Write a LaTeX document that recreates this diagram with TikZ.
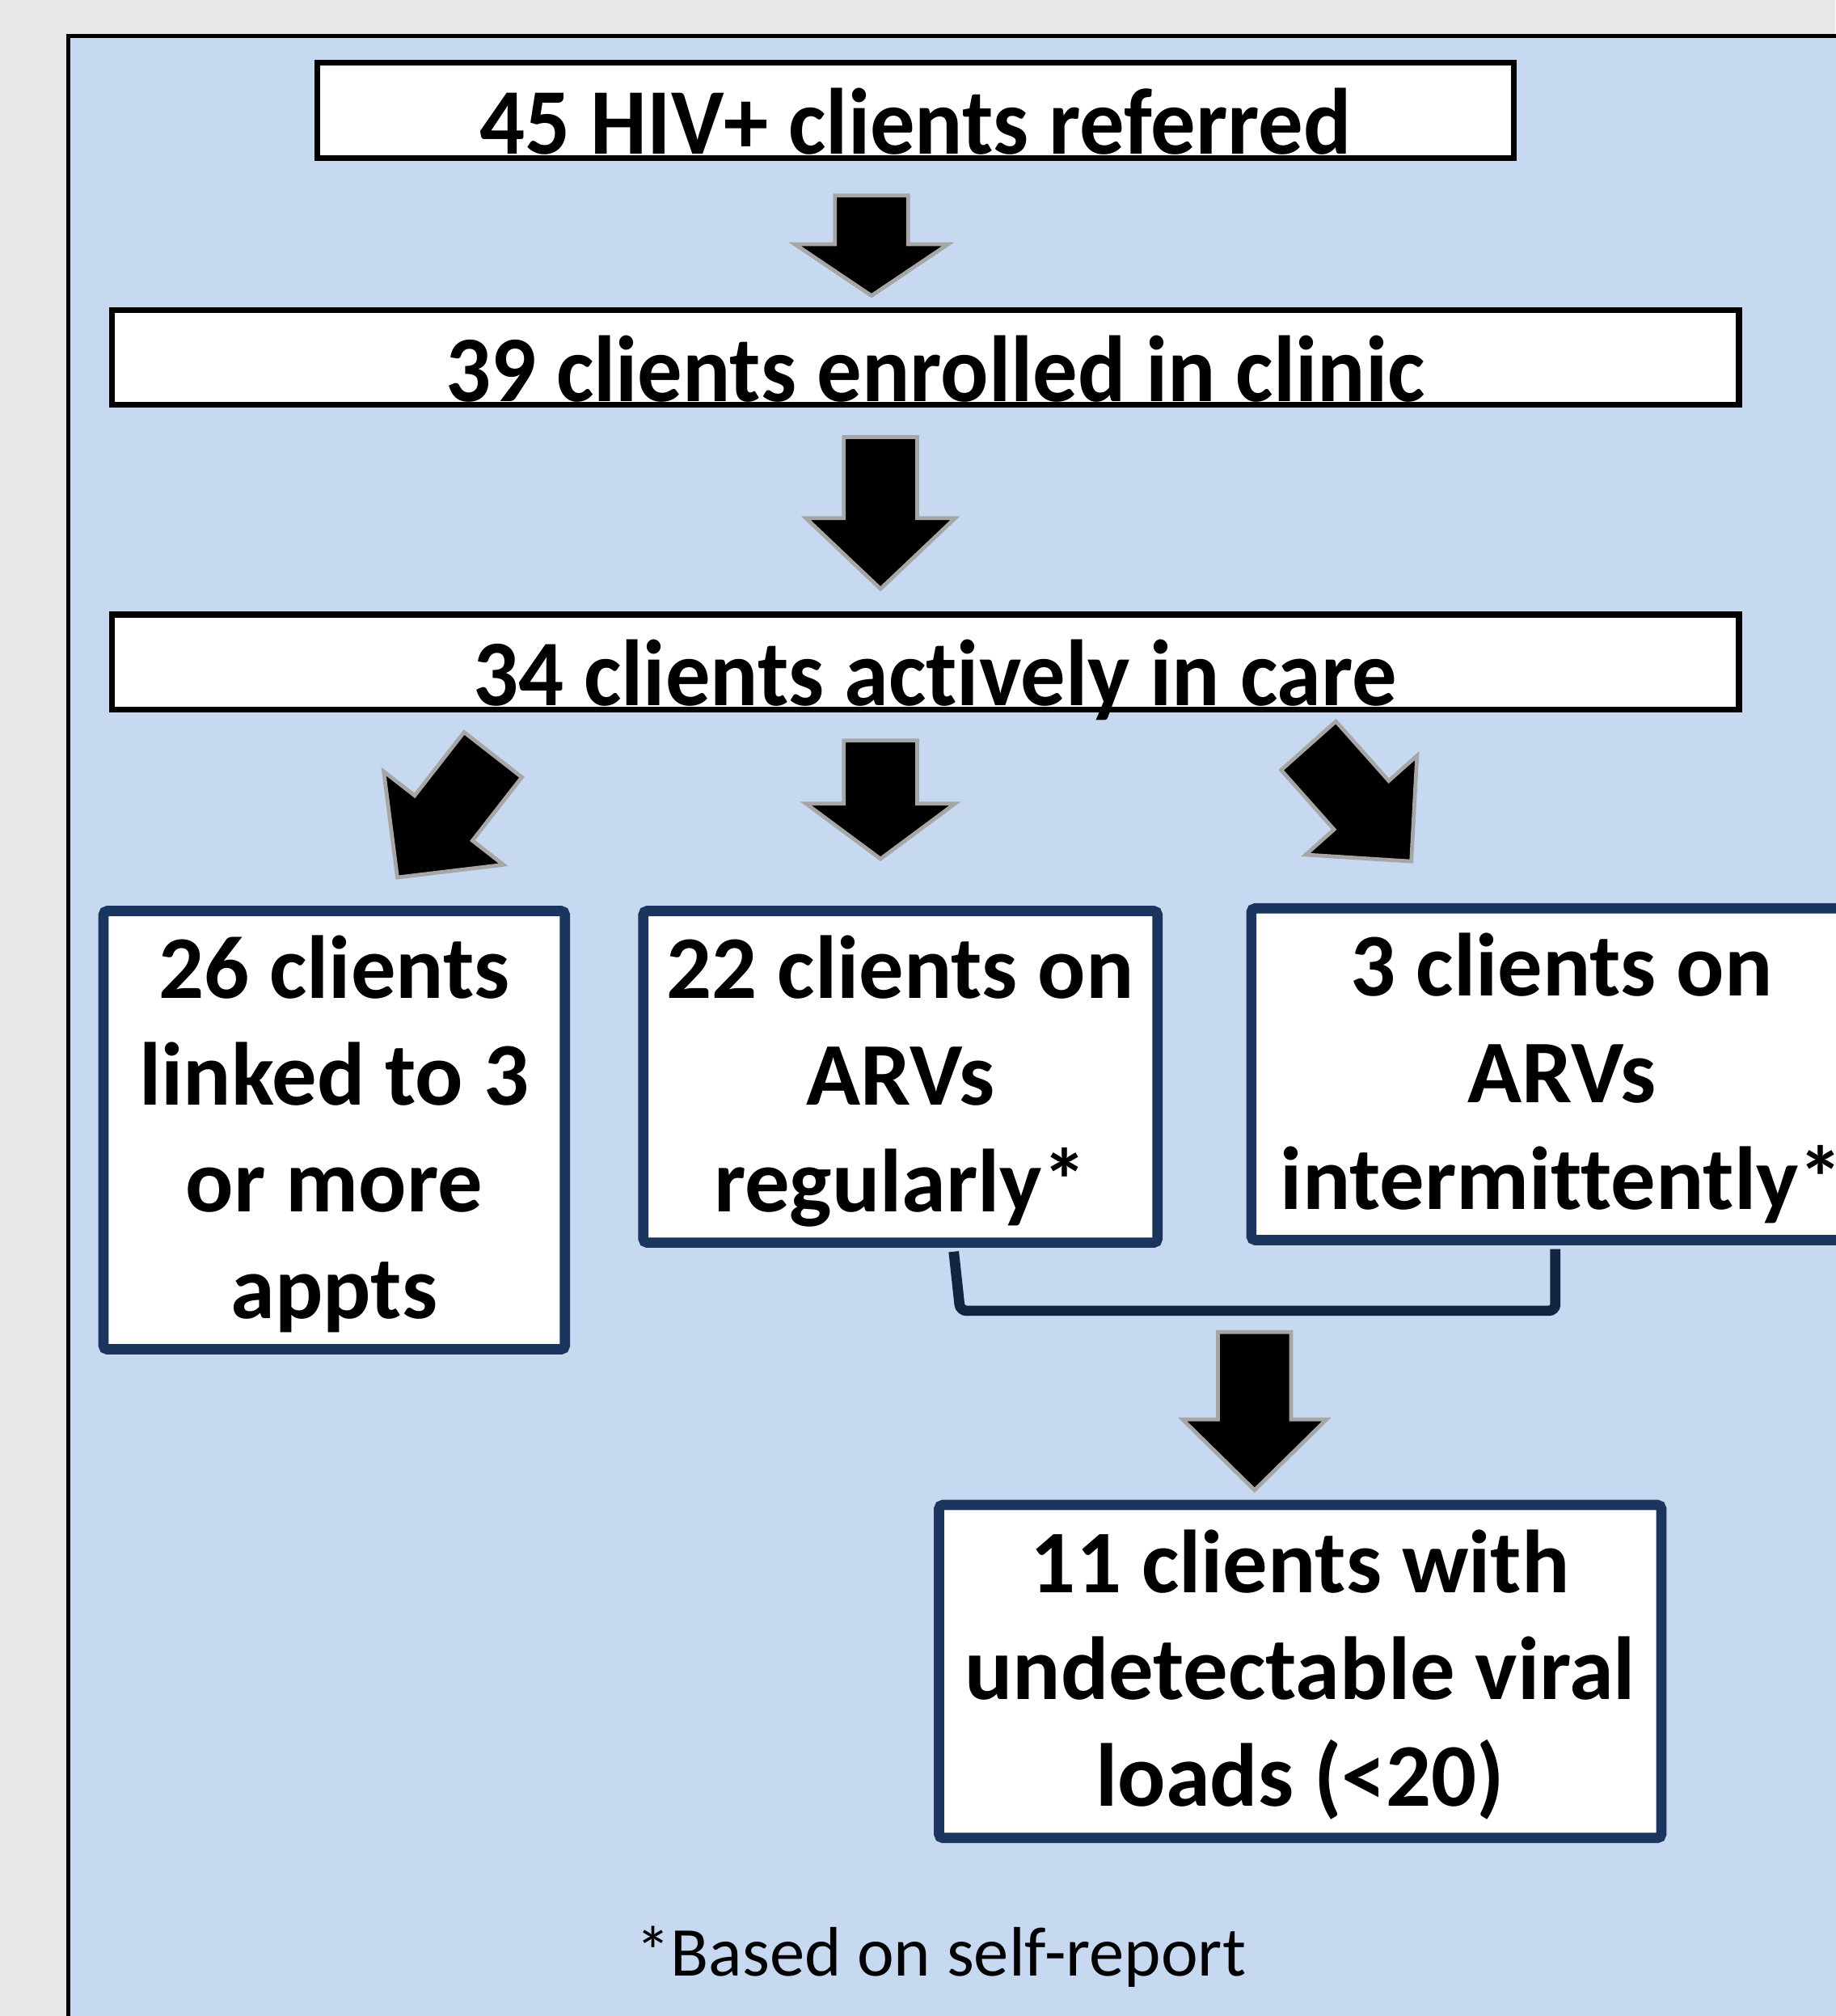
\documentclass[tikz,border=0pt]{standalone}
\usepackage{fontspec}
\setmainfont{Carlito}[Ligatures=NoCommon]
\usetikzlibrary{calc}

\definecolor{bggray}{RGB}{231,231,231}
\definecolor{panelblue}{RGB}{198,217,240}
\definecolor{navy}{RGB}{26,54,94}
\definecolor{darknavy}{RGB}{17,36,64}
\definecolor{rimgray}{RGB}{166,166,166}

% block arrow from tail #1 to tip #2, head length #3 and head half width #4 (cm)
\newcommand{\flowarrow}[4]{%
  \draw[blockarrow] let \p1=(#1), \p2=(#2), \n1={atan2(\y2-\y1,\x2-\x1)}, \n2={veclen(\x2-\x1,\y2-\y1)} in
    [shift={(\p1)}, rotate=\n1]
    (0pt,-0.57cm) -- ({\n2*1pt-#3cm},-0.57cm) -- ({\n2*1pt-#3cm},-#4cm) -- ({\n2*1pt},0pt)
    -- ({\n2*1pt-#3cm},#4cm) -- ({\n2*1pt-#3cm},0.57cm) -- (0pt,0.57cm) -- cycle;
}

\begin{document}
\begin{tikzpicture}[x=0.02cm, y=-0.02cm,
  flowbox/.style={draw=black, line width=0.09cm, fill=white, inner sep=0pt,
    text height=1.36cm, text depth=0pt, font=\bfseries\fontsize{39.6}{47.2}\selectfont},
  stagebox/.style={draw=navy, line width=0.16cm, fill=white, rounded corners=0.06cm,
    inner sep=0pt, align=center, text depth=0.1cm, font=\bfseries\fontsize{39.6}{47.2}\selectfont},
  blockarrow/.style={fill=black, draw=rimgray, line width=0.06cm},
  bracket/.style={draw=darknavy, line width=0.16cm, rounded corners=0.1cm}]

\useasboundingbox (0,0) rectangle (1428,1568);
\fill[bggray] (0,0) rectangle (1428,1568);
\draw[fill=panelblue, line width=0.06cm] (53,28) rectangle (1500,1620);

% top row
\node[flowbox, minimum width=18.62cm, minimum height=1.48cm] (referred) at (712.5,86)
  {\scalebox{1}[1.05]{45 HIV+ clients referred}};
\node[flowbox, minimum width=25.32cm, minimum height=1.48cm] (enrolled) at (720,278)
  {\hspace*{0.3cm}\scalebox{1}[1.05]{39 clients enrolled in clinic}};
\node[flowbox, minimum width=25.32cm, minimum height=1.48cm] (incare) at (720,515)
  {\hspace*{0.3cm}\scalebox{1}[1.05]{34 clients actively in care}};

% outcomes
\node[stagebox, minimum width=7.18cm, minimum height=6.82cm] (linked) at (260,879)
  {26 clients\\linked to 3\\or more\\appts};
\node[stagebox, minimum width=8.0cm, minimum height=5.16cm] (regular) at (700.5,837.5)
  {22 clients on\\ARVs\\regularly*};
\node[stagebox, minimum width=9.66cm, minimum height=5.16cm] (intermit) at (1215,835.5)
  {3 clients on\\ARVs\\intermittently*};
\node[stagebox, minimum width=11.24cm, minimum height=5.18cm] (viral) at (1011.5,1300)
  {11 clients with\\undetectable viral\\loads (<20)};

\node[font=\fontsize{31}{37}\selectfont, anchor=base] (note) at (732,1537) {*Based on self-report};

% arrows
\coordinate (a1s) at (678,152);   \coordinate (a1e) at (678,230);
\coordinate (a2s) at (685,340);   \coordinate (a2e) at (685,458);
\coordinate (a3s) at (685,576);   \coordinate (a3e) at (685,668);
\coordinate (a4s) at (383.5,587); \coordinate (a4e) at (309,682.6);
\coordinate (a5s) at (1018,580);  \coordinate (a5e) at (1098,670);
\coordinate (a6s) at (976,1036);  \coordinate (a6e) at (976,1159);
\flowarrow{a1s}{a1e}{0.8}{1.19}
\flowarrow{a2s}{a2e}{1.1}{1.16}
\flowarrow{a3s}{a3e}{0.86}{1.16}
\flowarrow{a4s}{a4e}{1.17}{1.18}
\flowarrow{a5s}{a5e}{1.17}{1.16}
\flowarrow{a6s}{a6e}{1.1}{1.12}

% bracket joining the two ARV boxes
\draw[bracket] ([xshift=0.83cm,yshift=-0.06cm]regular.south) -- ++(0.1cm,-0.92cm)
  -| ([xshift=-0.1cm,yshift=-0.06cm]intermit.south);

\end{tikzpicture}
\end{document}
